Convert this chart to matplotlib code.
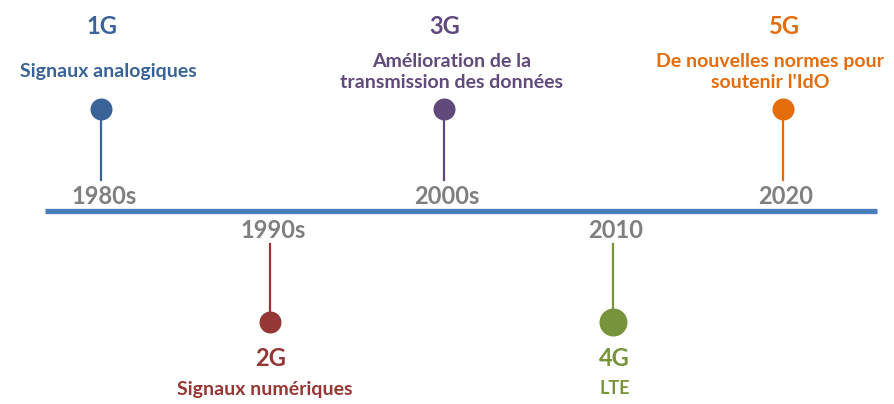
import matplotlib
matplotlib.use("Agg")
import matplotlib.pyplot as plt

# ---- data ----
generations = ["1G", "2G", "3G", "4G", "5G"]
periods = ["1980s", "1990s", "2000s", "2010", "2020"]
descriptions = [
    "Signaux analogiques",
    "Signaux numériques",
    "Amélioration de la\ntransmission des données",
    "LTE",
    "De nouvelles normes pour\nsoutenir l'IdO",
]

# ---- layout / style ----
event_x = [101, 270, 444, 613, 783]
sides = [1, -1, 1, -1, 1]          # 1 = above the line, -1 = below
desc_dx = [7, -5, 8, 2, -13]
dot_r = [11, 11, 11, 14, 11]
desc_size = [14, 14, 14, 13, 14]
colors = ["#3A6398", "#953735", "#604A7B", "#77933C", "#E46C0A"]
axis_color = "#4A7EBB"
year_color = "#7F7F7F"
FONT = ["Lato", "DejaVu Sans"]

W, H = 895, 404
fig = plt.figure(figsize=(W / 100, H / 100), dpi=100)
ax = fig.add_axes([0, 0, 1, 1])
ax.set_xlim(0, W)
ax.set_ylim(H, 0)
ax.axis("off")

line_y = 211
ax.plot([45, 877], [line_y, line_y], color=axis_color, lw=3.8,
        solid_capstyle="butt", zorder=2)

for i in range(len(generations)):
    x = event_x[i]
    c = colors[i]
    if sides[i] > 0:
        dot_y, stem_end, year_y, gen_y, desc_y = 109, 180, 196, 27, 72
    else:
        dot_y, stem_end, year_y, gen_y, desc_y = 322, 244, 231, 358, 389
    ax.plot([x, x], [dot_y, stem_end], color=c, lw=1.6, zorder=3)
    ax.scatter([x], [dot_y], s=(dot_r[i] * 2 * 0.72) ** 2, color=c,
               zorder=4, linewidths=0)
    ax.text(x + 3, year_y, periods[i], ha="center", va="center",
            fontsize=17, fontweight="bold", color=year_color, family=FONT)
    ax.text(x + 1, gen_y, generations[i], ha="center", va="center",
            fontsize=17, fontweight="bold", color=c, family=FONT)
    ax.text(x + desc_dx[i], desc_y, descriptions[i], ha="center",
            va="center", fontsize=desc_size[i], fontweight="bold", color=c,
            family=FONT, linespacing=1.35)

fig.savefig("out.png", dpi=100)
